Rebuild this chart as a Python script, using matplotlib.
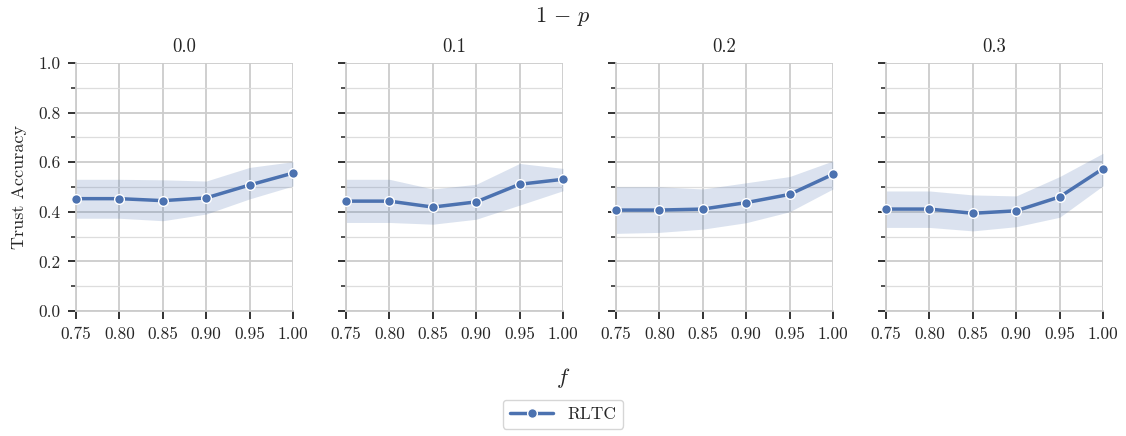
import matplotlib
matplotlib.use("Agg")
import matplotlib.pyplot as plt
from matplotlib.ticker import MultipleLocator
import seaborn as sns

# Data
f_values = [0.75, 0.80, 0.85, 0.90, 0.95, 1.00]
p_labels = ["0.0", "0.1", "0.2", "0.3"]

mean_p00 = [0.453, 0.453, 0.445, 0.456, 0.508, 0.556]
low_p00 = [0.374, 0.374, 0.364, 0.391, 0.452, 0.504]
high_p00 = [0.531, 0.531, 0.529, 0.524, 0.579, 0.602]

mean_p01 = [0.443, 0.443, 0.419, 0.440, 0.511, 0.531]
low_p01 = [0.357, 0.357, 0.350, 0.370, 0.427, 0.485]
high_p01 = [0.531, 0.531, 0.492, 0.511, 0.595, 0.575]

mean_p02 = [0.407, 0.407, 0.411, 0.437, 0.470, 0.551]
low_p02 = [0.313, 0.317, 0.330, 0.356, 0.400, 0.492]
high_p02 = [0.501, 0.501, 0.492, 0.517, 0.542, 0.605]

mean_p03 = [0.411, 0.411, 0.394, 0.404, 0.460, 0.574]
low_p03 = [0.337, 0.337, 0.323, 0.340, 0.378, 0.505]
high_p03 = [0.484, 0.484, 0.468, 0.464, 0.542, 0.636]

means = [mean_p00, mean_p01, mean_p02, mean_p03]
lows = [low_p00, low_p01, low_p02, low_p03]
highs = [high_p00, high_p01, high_p02, high_p03]

sns.set_theme(style="ticks")
plt.rcParams["font.family"] = "serif"
plt.rcParams["font.serif"] = ["cmr10"]
plt.rcParams["mathtext.fontset"] = "cm"
plt.rcParams["axes.formatter.use_mathtext"] = True

color = "#4C72B0"
fig = plt.figure(figsize=(11.26, 4.36), dpi=100)

lefts = [0.0675, 0.3073, 0.547, 0.7869]
axes = []
for i, left in enumerate(lefts):
    ax = fig.add_axes([left, 0.2867, 0.1927, 0.5688])
    axes.append(ax)
    ax.fill_between(f_values, lows[i], highs[i], color=color, alpha=0.2, linewidth=0)
    line, = ax.plot(f_values, means[i], color=color, linewidth=2.5, marker="o",
                    markersize=7, markeredgecolor="white", markeredgewidth=1.0,
                    clip_on=False, zorder=5, label="RLTC")
    ax.set_xlim(0.75, 1.0)
    ax.set_ylim(0.0, 1.0)
    ax.set_xticks(f_values)
    ax.set_xticklabels(["0.75", "0.80", "0.85", "0.90", "0.95", "1.00"])
    ax.yaxis.set_major_locator(MultipleLocator(0.2))
    ax.yaxis.set_minor_locator(MultipleLocator(0.1))
    ax.grid(True, which="major", color="#cccccc", linewidth=1.3)
    ax.grid(True, which="minor", axis="y", color="#dddddd", linewidth=0.9)
    ax.set_axisbelow(True)
    ax.tick_params(axis="both", which="major", labelsize=12.5, length=6, width=1.3,
                   color="#222222", pad=5)
    ax.tick_params(axis="y", which="minor", length=3.5, width=1.1, color="#222222")
    for s in ["top", "right"]:
        ax.spines[s].set_visible(False)
    for s in ["left", "bottom"]:
        ax.spines[s].set_color("#cccccc")
        ax.spines[s].set_linewidth(1.3)
    ax.set_title(p_labels[i], fontsize=13.5, pad=8)
    if i == 0:
        ax.set_yticks([0.0, 0.2, 0.4, 0.6, 0.8, 1.0])
        ax.set_yticklabels(["0.0", "0.2", "0.4", "0.6", "0.8", "1.0"])
        ax.set_ylabel("Trust Accuracy", fontsize=13, labelpad=8)
    else:
        ax.tick_params(axis="y", labelleft=False)

fig.text(0.5, 0.963, r"$1\,-\,p$", ha="center", va="center", fontsize=16)
fig.text(0.5, 0.133, "$f$", ha="center", va="center", fontsize=16)
fig.legend(handles=[line], loc="center", bbox_to_anchor=(0.5, 0.05),
           fontsize=12.5, frameon=True, handlelength=2.5)

fig.savefig("out.png", dpi=100)
